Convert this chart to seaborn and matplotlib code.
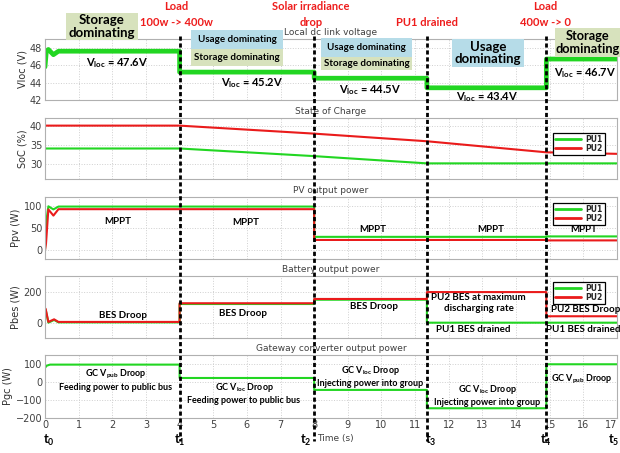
import matplotlib
matplotlib.use("Agg")
import matplotlib.pyplot as plt
import matplotlib.transforms as mtransforms
from matplotlib.lines import Line2D
from matplotlib.patches import Rectangle
import pandas as pd
import seaborn as sns

# ---------------- data ----------------
event_times = [4, 8, 11.35, 14.9]

voc_time = [0, 0.04, 0.1, 0.25, 0.4, 4, 4, 8, 8, 11.35, 11.35, 14.9, 14.9, 17]
voc_pu = [45.8, 47.6, 47.8, 47.2, 47.6, 47.6, 45.2, 45.2, 44.5, 44.5, 43.4, 43.4, 46.7, 46.7]

soc_time = [0, 4, 8, 11.35, 14.9, 17]
soc_pu1 = [34.0, 34.0, 32.0, 30.1, 30.1, 30.1]
soc_pu2 = [40.0, 40.0, 37.9, 35.9, 33.0, 32.6]

ppv_time = [0, 0.03, 0.1, 0.25, 0.4, 8, 8, 14.9, 14.9, 17]
ppv_pu1 = [0, 60, 99, 92, 98.4, 98.4, 30, 30, 31, 31]
ppv_pu2 = [0, 15, 92, 78, 92.5, 92.5, 23, 23, 22, 22]

pbes_time = [0, 0.02, 0.1, 0.27, 0.4, 4, 4, 8, 8, 11.35, 11.35, 14.9, 14.9, 17]
pbes_pu1 = [88, 84, 0, 18, 2, 2, 122, 122, 150, 150, 0, 0, 0, 0]
pbes_pu2 = [95, 90, 5, 22, 5, 5, 127, 127, 155, 155, 200, 200, 42, 42]

pgc_time = [0, 0.05, 0.15, 4, 4, 8, 8, 11.35, 11.35, 14.9, 14.9, 17]
pgc_gc = [80, 92, 98, 98, 23, 23, -44, -44, -147, -147, 100, 100]

x_ticks = list(range(0, 18))
panel_titles = ["Local dc link voltage", "State of Charge", "PV output power",
                "Battery output power", "Gateway converter output power"]
y_labels = ["Vloc (V)", "SoC (%)", "Ppv (W)", "Pbes (W)", "Pgc (W)"]
y_ticks = [[42, 44, 46, 48], [30, 35, 40], [0, 50, 100], [0, 200], [-200, -100, 0, 100]]
y_limits = [(42, 49), (26, 42), (-20, 120), (-100, 305), (-200, 152)]

GREEN = "#22d622"
RED = "#ea1b1b"
BOX_GREEN = "#d7e2bd"
BOX_BLUE = "#b6dce8"

# ---------------- style ----------------
sns.set_theme(style="whitegrid")
plt.rcParams.update({
    "font.family": ["DejaVu Sans"],
    "mathtext.fontset": "custom",
    "mathtext.rm": "Lato:bold",
    "mathtext.it": "Lato:bold",
    "mathtext.bf": "Lato:bold",
    "axes.edgecolor": "#b0b0b0",
    "axes.linewidth": 0.8,
    "grid.color": "#cfcfcf",
    "grid.linestyle": ":",
    "grid.linewidth": 0.7,
})

W, H = 620, 453
fig = plt.figure(figsize=(W / 100, H / 100), dpi=100)


def frame(top_px, bottom_px):
    return [45 / W, 1 - bottom_px / H, (617 - 45) / W, (bottom_px - top_px) / H]


rows = [(39, 100), (118, 179), (197, 259), (276, 338), (355, 417.7)]
axes = [fig.add_axes(frame(t, b)) for t, b in rows]


def long_frame(time, **series):
    parts = [pd.DataFrame({"time": time, "value": v, "unit": k}) for k, v in series.items()]
    return pd.concat(parts, ignore_index=True)


palette = {"PU1": GREEN, "PU2": RED}

sns.lineplot(data=long_frame(voc_time, PU1=voc_pu), x="time", y="value", hue="unit",
             palette=palette, estimator=None, sort=False, lw=3.4, legend=False, ax=axes[0])
sns.lineplot(data=long_frame(soc_time, PU1=soc_pu1, PU2=soc_pu2), x="time", y="value",
             hue="unit", palette=palette, estimator=None, sort=False, lw=1.5, legend=False, ax=axes[1])
sns.lineplot(data=long_frame(ppv_time, PU1=ppv_pu1, PU2=ppv_pu2), x="time", y="value",
             hue="unit", palette=palette, estimator=None, sort=False, lw=1.5, legend=False, ax=axes[2])
sns.lineplot(data=long_frame(pbes_time, PU1=pbes_pu1, PU2=pbes_pu2), x="time", y="value",
             hue="unit", palette=palette, estimator=None, sort=False, lw=1.5, legend=False, ax=axes[3])
sns.lineplot(data=long_frame(pgc_time, PU1=pgc_gc), x="time", y="value", hue="unit",
             palette=palette, estimator=None, sort=False, lw=1.5, legend=False, ax=axes[4])

for i, ax in enumerate(axes):
    ax.set_xlim(0, 17)
    ax.set_ylim(*y_limits[i])
    ax.set_xticks(x_ticks)
    ax.set_yticks(y_ticks[i])
    ax.set_xlabel("")
    ax.set_ylabel(y_labels[i], fontsize=7, color="#303030", labelpad=2)
    ax.set_title(panel_titles[i], fontsize=6.5, color="#404040", pad=3)
    ax.tick_params(axis="both", length=0, pad=2, labelsize=7, labelcolor="#404040")
    ax.grid(True, axis="both")
    for s in ax.spines.values():
        s.set_visible(True)
        s.set_color("#b0b0b0")
    if i < 4:
        ax.set_xticklabels([])

# keep the last time label inside the figure
axes[4].set_xticklabels([str(v) for v in x_ticks])
axes[4].get_xticklabels()[-1].set_horizontalalignment("right")

# legends for the PU1 / PU2 panels
handles = [Line2D([], [], color=GREEN, lw=2), Line2D([], [], color=RED, lw=2)]
legend_kw = dict(labels=["PU1", "PU2"], handlelength=3.4, handletextpad=0.6,
                 borderpad=0.25, labelspacing=0.05, fancybox=False, framealpha=1,
                 edgecolor="black", prop={"family": "DejaVu Sans", "weight": "bold", "size": 5.5})
for ax, anchor in [(axes[1], (0.985, 0.82)), (axes[2], (0.985, 0.97)), (axes[3], (0.985, 0.97))]:
    leg = ax.legend(handles=handles, loc="upper right", bbox_to_anchor=anchor, **legend_kw)
    leg.get_frame().set_linewidth(0.9)

# event markers running through all panels
blend = mtransforms.blended_transform_factory(axes[4].transData, fig.transFigure)
for t in event_times:
    fig.add_artist(Line2D([t, t], [1 - 36 / H, 1 - 441 / H], transform=blend,
                          color="black", lw=2.0, ls=(0, (1.5, 1.0)), zorder=5))


def px(x, y):
    return x / W, 1 - y / H


def note(x, y, s, size=6.5, color="black", ls=1.25, ha="center"):
    fig.text(*px(x, y), s, ha=ha, va="center", fontsize=size, fontweight="bold",
             family="Lato", color=color, linespacing=ls, zorder=6)


def box(x0, y0, x1, y1, color):
    fig.add_artist(Rectangle(px(x0, y1), (x1 - x0) / W, (y1 - y0) / H,
                             transform=fig.transFigure, facecolor=color,
                             edgecolor="none", zorder=4))


# operating-mode boxes
box(66, 13, 138, 40, BOX_GREEN)
note(102, 26.5, "Storage\ndominating", size=9.5, ls=1.05)
box(191, 30, 283, 49, BOX_BLUE)
note(237, 39.5, "Usage dominating", size=7)
box(191, 49, 283, 66, BOX_GREEN)
note(237, 57.5, "Storage dominating", size=7)
box(321, 38, 412, 57, BOX_BLUE)
note(366.5, 47.5, "Usage dominating", size=7)
box(321, 57, 412, 70, BOX_GREEN)
note(366.5, 63.5, "Storage dominating", size=7)
box(452, 39, 524, 67, BOX_BLUE)
note(488, 53, "Usage\ndominating", size=9.5, ls=1.05)
box(555, 28, 622, 57, BOX_GREEN)
note(587.5, 42.5, "Storage\ndominating", size=9.2, ls=1.05)

# event captions
note(176, 14.5, "Load\n100w -> 400w", size=8, color="#ee1c1c", ls=1.5)
note(311, 14.5, "Solar irradiance\ndrop", size=8, color="#ee1c1c", ls=1.5)
note(426.5, 23, "PU1 drained", size=8, color="#ee1c1c")
note(545.5, 14.5, "Load\n400w -> 0", size=8, color="#ee1c1c", ls=1.5)

# local bus voltage levels
note(117, 63, r"V$_{loc}$ = 47.6V", size=8)
note(252, 83, r"V$_{loc}$ = 45.2V", size=8)
note(370, 90, r"V$_{loc}$ = 44.5V", size=8)
note(487, 97, r"V$_{loc}$ = 43.4V", size=8)
note(585, 73, r"V$_{loc}$ = 46.7V", size=8)

# PV mode
for x, y in [(118, 221.7), (246, 222), (373, 229), (491, 229), (584, 229)]:
    note(x, y, "MPPT", size=7)

# battery modes
note(123, 315, "BES Droop", size=7)
note(243, 314, "BES Droop", size=7)
note(374.5, 306.7, "BES Droop", size=7)
note(478.7, 302.7, "PU2 BES at maximum\ndischarging rate", size=7, ls=1.3)
note(473, 330, "PU1 BES drained", size=7)
note(585.5, 309, "PU2 BES Droop", size=7)
note(583.5, 330, "PU1 BES drained", size=7)

# gateway converter modes
note(116, 380, "GC V$_{pub}$ Droop\nFeeding power to public bus", size=6.5, ls=1.3)
note(244, 393.3, "GC V$_{loc}$ Droop\nFeeding power to public bus", size=6.5, ls=1.3)
note(370.5, 375.8, "GC V$_{loc}$ Droop\nInjecting power into group", size=6.5, ls=1.3)
note(487, 395.3, "GC V$_{loc}$ Droop\nInjecting power into group", size=6.5, ls=1.3)
note(582, 379.3, "GC V$_{pub}$ Droop", size=6.5)

# time instants and axis label
for x, s in [(49, r"t$_0$"), (180, r"t$_1$"), (306, r"t$_2$"), (431, r"t$_3$"),
             (546, r"t$_4$"), (614, r"t$_5$")]:
    note(x, 440, s, size=9)
fig.text(*px(317, 439), "Time (s)", ha="left", va="center", fontsize=6.5, color="#404040")

fig.savefig("out.png", dpi=100)
